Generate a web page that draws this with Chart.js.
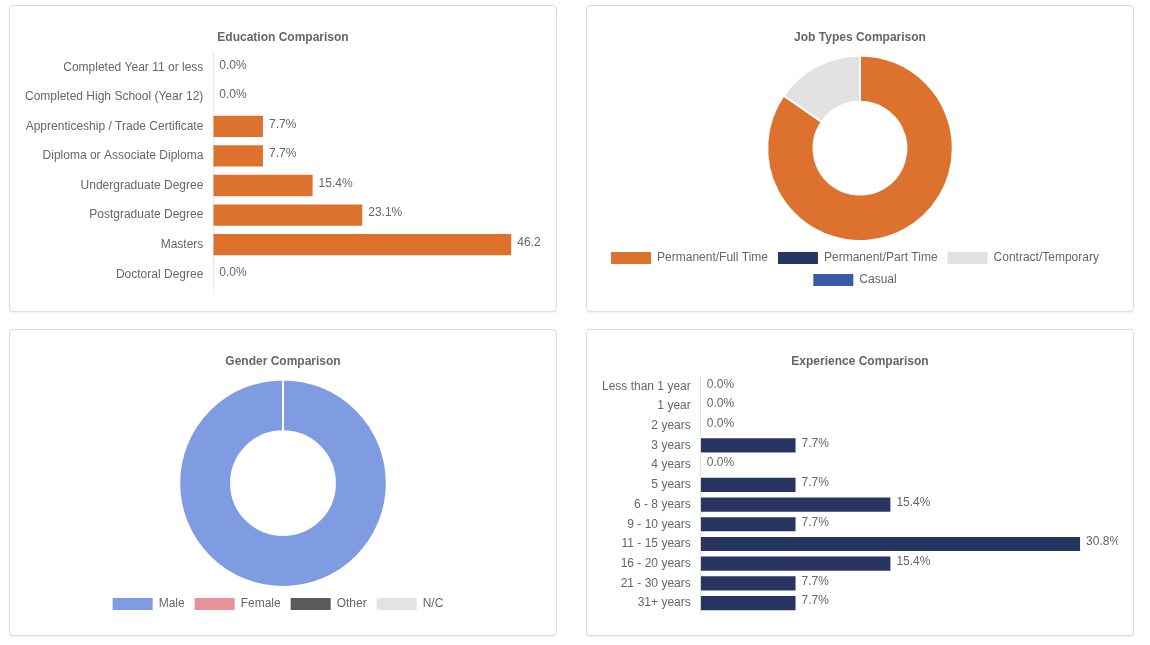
<!DOCTYPE html>
<html>
<head>
<meta charset="utf-8">
<script src="https://cdn.jsdelivr.net/npm/chart.js@4.4.1/dist/chart.umd.min.js"></script>
<style>
  html, body { margin: 0; padding: 0; background: #fff; width: 1150px; height: 645px; overflow: hidden; }
  .panel {
    position: absolute; box-sizing: border-box; width: 548px; height: 307px;
    border: 1px solid #dcdcdc; border-radius: 4px; background: #fff;
    box-shadow: 0 1px 1px rgba(0,0,0,0.06); padding: 14px 15px;
  }
  .panel .wrap { position: relative; width: 516px; height: 276px; }
  #p1 { left: 9px; top: 5px; }
  #p2 { left: 586px; top: 5px; }
  #p3 { left: 9px; top: 329px; }
  #p4 { left: 586px; top: 329px; }
</style>
</head>
<body>
<div class="panel" id="p1"><div class="wrap"><canvas id="c1"></canvas></div></div>
<div class="panel" id="p2"><div class="wrap"><canvas id="c2"></canvas></div></div>
<div class="panel" id="p3"><div class="wrap"><canvas id="c3"></canvas></div></div>
<div class="panel" id="p4"><div class="wrap"><canvas id="c4"></canvas></div></div>
<script>
// ---- Data ----
const educationLabels = ["Completed Year 11 or less", "Completed High School (Year 12)", "Apprenticeship / Trade Certificate", "Diploma or Associate Diploma", "Undergraduate Degree", "Postgraduate Degree", "Masters", "Doctoral Degree"];
const educationValues = [0.0, 0.0, 7.7, 7.7, 15.4, 23.1, 46.2, 0.0];

const jobTypeLabels = ["Permanent/Full Time", "Permanent/Part Time", "Contract/Temporary", "Casual"];
const jobTypeValues = [11, 0, 2, 0];

const genderLabels = ["Male", "Female", "Other", "N/C"];
const genderValues = [13, 0, 0, 0];

const experienceLabels = ["Less than 1 year", "1 year", "2 years", "3 years", "4 years", "5 years", "6 - 8 years", "9 - 10 years", "11 - 15 years", "16 - 20 years", "21 - 30 years", "31+ years"];
const experienceValues = [0.0, 0.0, 0.0, 7.7, 0.0, 7.7, 15.4, 7.7, 30.8, 15.4, 7.7, 7.7];

// ---- Style ----
const ORANGE = "#DD722F";
const NAVY = "#283561";
const jobColors = ["#DD722F", "#283561", "#E2E2E2", "#3F59A9"];
const genderColors = ["#7F9BE2", "#E8919A", "#5A5A5C", "#E3E3E3"];
const FONT = "'Liberation Sans', Arial, Helvetica, sans-serif";
const TEXT = "#666";

Chart.defaults.font.family = FONT;
Chart.defaults.font.size = 12;
Chart.defaults.color = TEXT;
Chart.defaults.animation = false;

const barLabelPlugin = {
  id: 'barLabels',
  afterDatasetsDraw(chart) {
    const ctx = chart.ctx;
    ctx.save();
    ctx.font = "12px " + FONT;
    ctx.fillStyle = TEXT;
    ctx.textAlign = 'left';
    ctx.textBaseline = 'middle';
    chart.data.datasets.forEach((ds, di) => {
      const meta = chart.getDatasetMeta(di);
      meta.data.forEach((el, i) => {
        const v = ds.data[i];
        ctx.fillText(v.toFixed(1) + "%", el.x + 6, el.y - 2);
      });
    });
    ctx.restore();
  }
};

// shift legend rows slightly left, as in the reference
const legendShiftPlugin = {
  id: 'legendShift',
  afterLayout(chart) {
    const lg = chart.legend;
    if (lg && !lg._shifted) {
      const orig = lg.draw.bind(lg);
      lg.draw = function () {
        chart.ctx.save();
        chart.ctx.translate(-5, 0);
        orig();
        chart.ctx.restore();
      };
      lg._shifted = true;
    }
  }
};

function barChart(id, labels, values, color, title) {
  return new Chart(document.getElementById(id), {
    type: 'bar',
    data: { labels: labels, datasets: [{ data: values, backgroundColor: color, borderWidth: 0 }] },
    options: {
      indexAxis: 'y',
      responsive: true,
      maintainAspectRatio: false,
      layout: { padding: { bottom: 7 } },
      plugins: {
        legend: { display: false },
        tooltip: { enabled: false },
        title: { display: true, text: title, color: TEXT, font: { size: 12, weight: 'bold' }, padding: { top: 10, bottom: 8 } }
      },
      scales: {
        x: { display: false, min: 0, max: Math.max(...values) * 1.1 },
        y: {
          grid: { display: false },
          border: { display: true, color: '#e6e6e6' },
          ticks: { color: TEXT, font: { size: 12 }, padding: 2 },
          afterFit(scale) { scale.width -= 2; scale.paddingTop = 0; scale.paddingBottom = 0; }
        }
      }
    },
    plugins: [barLabelPlugin]
  });
}

function doughnutChart(id, labels, values, colors, title) {
  return new Chart(document.getElementById(id), {
    type: 'doughnut',
    data: { labels: labels, datasets: [{ data: values, backgroundColor: colors, borderColor: '#fff', borderWidth: 2 }] },
    options: {
      responsive: true,
      maintainAspectRatio: false,
      cutout: '50%',
      plugins: {
        tooltip: { enabled: false },
        title: { display: true, text: title, color: TEXT, font: { size: 12, weight: 'bold' } },
        legend: {
          position: 'bottom',
          labels: {
            color: TEXT,
            font: { size: 12 },
            boxWidth: 40,
            generateLabels(chart) {
              const items = Chart.overrides.doughnut.plugins.legend.labels.generateLabels(chart);
              return items.map(it => Object.assign(it, { lineWidth: 0, hidden: false }));
            }
          }
        }
      }
    },
    plugins: [legendShiftPlugin]
  });
}

barChart('c1', educationLabels, educationValues, ORANGE, 'Education Comparison');
doughnutChart('c2', jobTypeLabels, jobTypeValues, jobColors, 'Job Types Comparison');
doughnutChart('c3', genderLabels, genderValues, genderColors, 'Gender Comparison');
barChart('c4', experienceLabels, experienceValues, NAVY, 'Experience Comparison');
</script>
</body>
</html>
